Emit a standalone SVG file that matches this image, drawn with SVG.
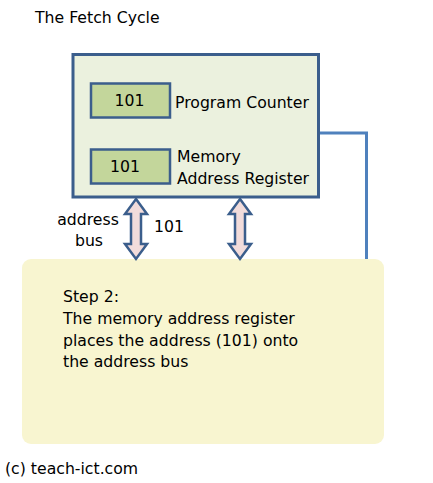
<svg xmlns="http://www.w3.org/2000/svg" width="433" height="483" viewBox="0 0 433 483">
<style>
text{font-family:"DejaVu Sans",Verdana,sans-serif;font-size:15.7px;fill:#000}
.reg{fill:#C3D69B;stroke:#3B5E8C;stroke-width:2.5}
.arr{fill:#F2DCDB;stroke:#3B5E8C;stroke-width:2.5;stroke-linejoin:miter}
</style>
<defs>
<path id="dbl" d="M0,-30 L11,-15 L5,-15 L5,15 L11,15 L0,30 L-11,15 L-5,15 L-5,-15 L-11,-15 Z"/>
</defs>
<rect width="433" height="483" fill="#fff"/>
<text x="35" y="23">The Fetch Cycle</text>
<g id="memory">
<rect x="22" y="259" width="362" height="185" rx="9" fill="#F8F5D0"/>
<text x="63" y="302">Step 2:</text>
<text x="63" y="324">The memory address register</text>
<text x="63" y="345.5">places the address (101) onto</text>
<text x="63" y="367">the address bus</text>
</g>
<g id="connectors">
<polyline points="319,133 366.5,133 366.5,259" fill="none" stroke="#4F81BD" stroke-width="3"/>
<use href="#dbl" class="arr" x="136" y="229"/>
<use href="#dbl" class="arr" x="240" y="229"/>
</g>
<g id="cpu">
<rect x="73" y="54.5" width="245.5" height="142.5" fill="#EBF1DE" stroke="#3B5E8C" stroke-width="3"/>
</g>
<g id="pc">
<rect class="reg" x="91" y="83.5" width="79" height="34"/>
<text x="129.5" y="106" text-anchor="middle">101</text>
<text x="175" y="108">Program Counter</text>
</g>
<g id="mar">
<rect class="reg" x="91" y="149.5" width="79" height="34"/>
<text x="125" y="172" text-anchor="middle">101</text>
<text x="177" y="162">Memory</text>
<text x="177" y="183.5">Address Register</text>
</g>
<g id="labels">
<text x="88" y="225" text-anchor="middle">address</text>
<text x="89" y="246" text-anchor="middle">bus</text>
<text x="154" y="232">101</text>
<text x="5" y="474">(c) teach-ict.com</text>
</g>
</svg>
